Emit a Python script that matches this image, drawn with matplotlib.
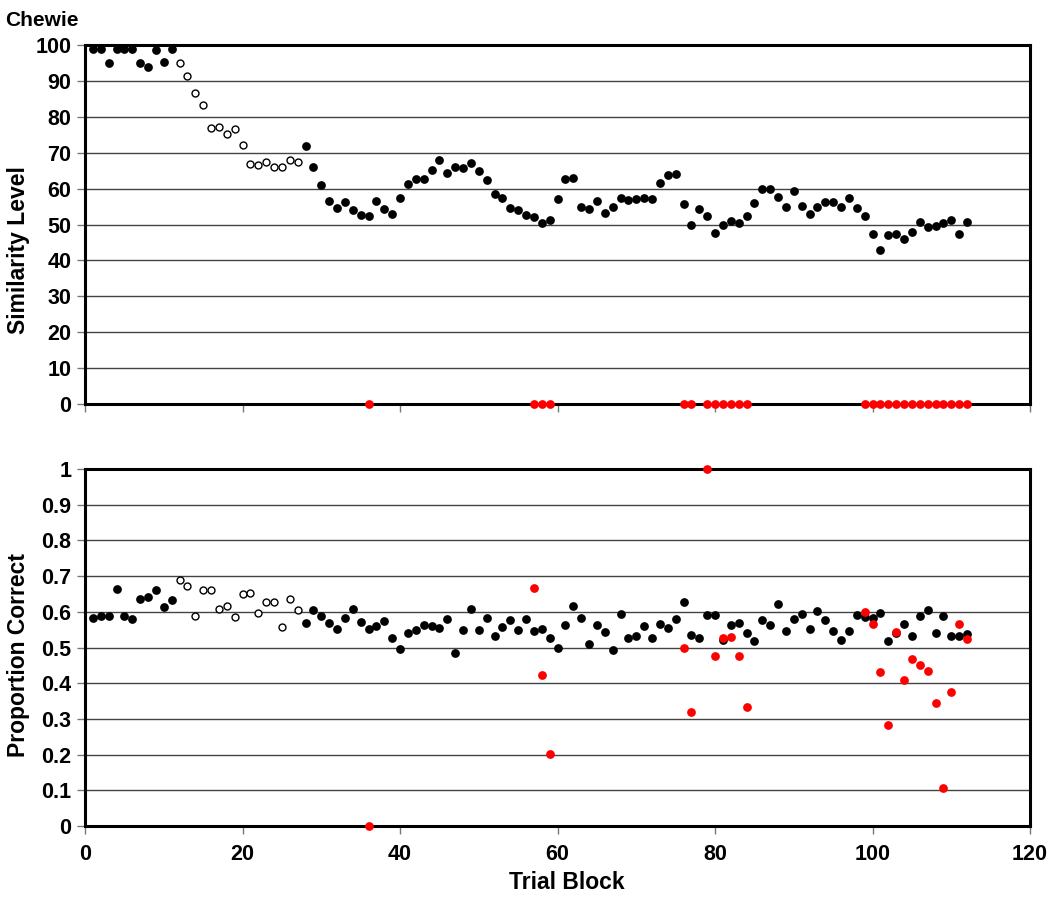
import numpy as np
import matplotlib
matplotlib.use("Agg")
import matplotlib.pyplot as plt

plt.rcParams['font.family'] = ['Liberation Sans', 'DejaVu Sans']
plt.rcParams['font.weight'] = 'bold'

# trial blocks 1..112
blocks = list(range(1, 113))

# similarity level per block (top panel)
similarity = [99, 99, 95, 99, 99, 99, 95, 94, 98.5, 95.3,
              99, 95, 91.5, 86.6, 83.4, 76.8, 77.2, 75.3, 76.7, 72.1,
              66.8, 66.5, 67.3, 66.1, 66, 68, 67.3, 71.8, 66.1, 60.9,
              56.6, 54.5, 56.3, 54.1, 52.6, 52.4, 56.6, 54.3, 53, 57.5,
              61.2, 62.7, 62.8, 65.3, 68, 64.3, 66.1, 65.8, 67.2, 65,
              62.4, 58.5, 57.4, 54.5, 54, 52.6, 52.1, 50.5, 51.4, 57.1,
              62.7, 63, 54.8, 54.2, 56.6, 53.1, 54.8, 57.4, 56.8, 57.2,
              57.5, 57, 61.6, 63.8, 64.2, 55.6, 49.9, 54.2, 52.4, 47.7,
              49.9, 50.9, 50.4, 52.3, 56.1, 59.9, 59.9, 57.7, 54.9, 59.4,
              55.2, 53, 54.8, 56.2, 56.2, 54.8, 57.5, 54.6, 52.5, 47.5,
              42.9, 47.1, 47.5, 46, 47.8, 50.6, 49.2, 49.6, 50.5, 51.4,
              47.5, 50.6]

# proportion correct per block (bottom panel)
proportion = [0.583, 0.587, 0.587, 0.664, 0.588, 0.580, 0.636, 0.641, 0.660, 0.613,
              0.632, 0.688, 0.673, 0.588, 0.660, 0.660, 0.609, 0.617, 0.585, 0.649,
              0.653, 0.597, 0.628, 0.628, 0.557, 0.637, 0.604, 0.569, 0.605, 0.588,
              0.569, 0.552, 0.584, 0.608, 0.572, 0.551, 0.561, 0.573, 0.528, 0.496,
              0.540, 0.549, 0.564, 0.560, 0.556, 0.580, 0.485, 0.549, 0.608, 0.549,
              0.584, 0.532, 0.557, 0.576, 0.549, 0.581, 0.547, 0.551, 0.527, 0.500,
              0.564, 0.617, 0.584, 0.509, 0.564, 0.544, 0.493, 0.593, 0.528, 0.531,
              0.561, 0.528, 0.565, 0.554, 0.581, 0.627, 0.536, 0.528, 0.590, 0.592,
              0.521, 0.562, 0.570, 0.541, 0.517, 0.577, 0.564, 0.621, 0.545, 0.581,
              0.594, 0.553, 0.601, 0.576, 0.545, 0.521, 0.545, 0.592, 0.585, 0.584,
              0.598, 0.517, 0.540, 0.567, 0.531, 0.587, 0.605, 0.542, 0.587, 0.532,
              0.532, 0.539]

# blocks drawn as open circles
open_blocks = list(range(12, 28))

# red probe blocks and their proportion correct
red_blocks = [36, 57, 58, 59, 76, 77, 79, 80, 81, 82, 83, 84,
              99, 100, 101, 102, 103, 104, 105, 106, 107, 108, 109, 110, 111, 112]
red_similarity = [0] * len(red_blocks)
red_proportion = [0.0, 0.668, 0.423, 0.201, 0.500, 0.319, 1.0, 0.477, 0.527, 0.529, 0.475, 0.334,
                  0.600, 0.565, 0.431, 0.282, 0.543, 0.408, 0.467, 0.450, 0.433, 0.345, 0.106, 0.375,
                  0.567, 0.524]

blocks = np.array(blocks)
similarity = np.array(similarity)
proportion = np.array(proportion)
is_open = np.isin(blocks, open_blocks)

fig = plt.figure(figsize=(10.5, 9.01), dpi=100)
ax1 = fig.add_axes([0.081, 0.5516, 0.900, 0.3984])
ax2 = fig.add_axes([0.081, 0.0832, 0.900, 0.3963])


def style(ax):
    for s in ax.spines.values():
        s.set_linewidth(2.2)
        s.set_color('black')
    ax.tick_params(axis='both', direction='out', length=6, width=1, color='#777777',
                   labelsize=15.5)
    ax.tick_params(axis='y', pad=4)
    ax.tick_params(axis='x', pad=7)
    ax.yaxis.grid(True, color='#444444', linewidth=1)
    ax.set_axisbelow(True)
    ax.set_xlim(0, 120)
    ax.set_xticks(range(0, 121, 20))


ms_fill = 6.3
ms_open = 5.0

# top panel
style(ax1)
ax1.plot(blocks[~is_open], similarity[~is_open], 'o', color='black', ms=ms_fill, mew=0,
         clip_on=False, zorder=3)
ax1.plot(blocks[is_open], similarity[is_open], 'o', mfc='white', mec='black', ms=ms_open,
         mew=1, clip_on=False, zorder=3)
ax1.plot(red_blocks, red_similarity, 'o', color='red', ms=ms_fill, mew=0, clip_on=False, zorder=4)
ax1.set_ylim(0, 100)
ax1.set_yticks(range(0, 101, 10))
ax1.set_xticklabels([])
ax1.set_ylabel('Similarity Level', fontsize=16.5, fontweight='bold')
ax1.yaxis.set_label_coords(-0.058, 0.43)
fig.text(0.005, 0.977, 'Chewie', fontsize=15, fontweight='bold', ha='left', va='center')

# bottom panel
style(ax2)
ax2.plot(blocks[~is_open], proportion[~is_open], 'o', color='black', ms=ms_fill, mew=0,
         clip_on=False, zorder=3)
ax2.plot(blocks[is_open], proportion[is_open], 'o', mfc='white', mec='black', ms=ms_open,
         mew=1, clip_on=False, zorder=3)
ax2.plot(red_blocks, red_proportion, 'o', color='red', ms=ms_fill, mew=0, clip_on=False, zorder=4)
ax2.set_ylim(0, 1)
ax2.set_yticks(np.arange(0, 1.01, 0.1))
ax2.set_yticklabels(['0', '0.1', '0.2', '0.3', '0.4', '0.5', '0.6', '0.7', '0.8', '0.9', '1'])
ax2.set_ylabel('Proportion Correct', fontsize=16.5, fontweight='bold')
ax2.yaxis.set_label_coords(-0.058, 0.48)
ax2.set_xlabel('Trial Block', fontsize=16.5, fontweight='bold', labelpad=4)
ax2.xaxis.set_label_coords(0.51, -0.125)

fig.savefig('out.png', dpi=100)
